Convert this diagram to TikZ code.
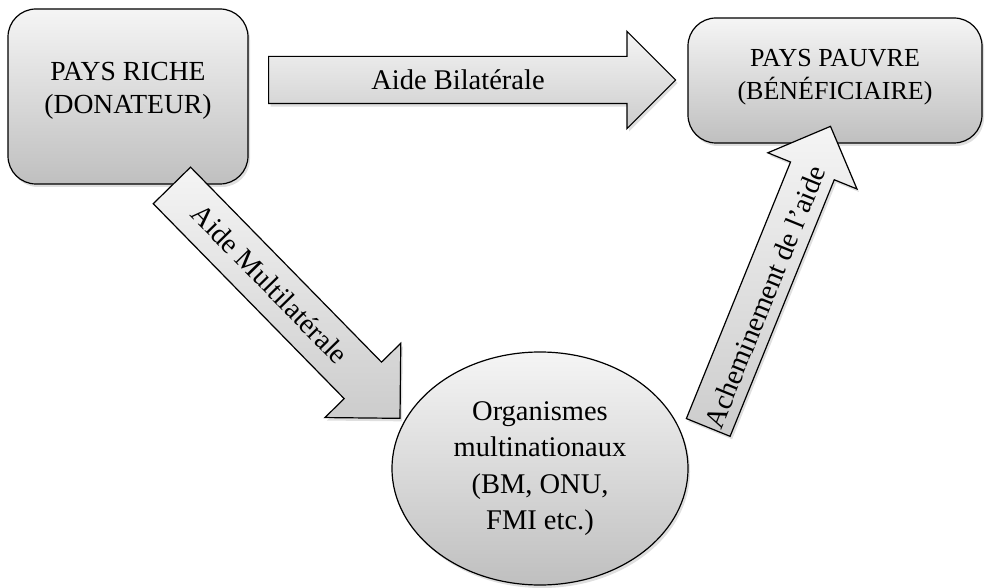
\documentclass[tikz,border=0pt]{standalone}
\usepackage{fontspec}
\setmainfont{Liberation Serif}
\usepackage{tikz}
\usetikzlibrary{shapes.geometric,shapes.arrows,shadows}

\tikzset{
  ombre/.style={drop shadow={opacity=0.25,shadow xshift=2pt,shadow yshift=-3pt}},
  pays/.style={draw,line width=1.2pt,rounded corners=28pt,top color=gray!8,
    bottom color=gray!50,align=center,font=\fontsize{26}{33}\selectfont,ombre},
  organ/.style={ellipse,draw,line width=1.2pt,top color=gray!8,bottom color=gray!50,
    align=center,inner sep=0pt,font=\fontsize{28.5}{36.5}\selectfont,ombre},
  fleche/.style={single arrow,draw,line width=1.2pt,top color=gray!8,bottom color=gray!40,
    text height=0pt,text depth=0pt,inner xsep=0pt,minimum width=0pt,
    single arrow tip angle=90,anchor=tail,ombre},
  legende/.style={font=\fontsize{28.5}{34}\selectfont}
}

\begin{document}
\begin{tikzpicture}[x=1pt,y=-1pt]
\useasboundingbox (0,0) rectangle (988,588);

\node[pays,minimum width=240pt,minimum height=175pt,text depth=18pt,
  font=\fontsize{27.6}{33}\selectfont] (riche) at (128,96.5) {PAYS RICHE\\(DONATEUR)};
\node[pays,minimum width=294pt,minimum height=125pt,text depth=12pt] (pauvre) at (835,80.5) {PAYS PAUVRE\\(BÉNÉFICIAIRE)};
\node[organ,minimum width=296pt,minimum height=233pt] (organ) at (540,468.5) {Organismes\\multinationaux\\(BM, ONU,\\FMI etc.)};

%les trois fleches
\node[fleche,minimum height=407pt,inner ysep=23pt,single arrow head extend=25pt] (bilat) at (268,80) {};
\node[fleche,rotate=-45.6,minimum height=326pt,inner ysep=25.5pt,single arrow head extend=27pt] (multilat) at (171.5,185) {};
\node[fleche,rotate=67.9,minimum height=325pt,inner ysep=23pt,single arrow head extend=24.5pt] (achem) at (708,428) {};

\node[legende] (bilat-txt) at (458,80) {Aide Bilatérale};
\node[legende,rotate=-45.6] (multilat-txt) at (270,284) {Aide Multilatérale};
\node[legende,rotate=67.9] (achem-txt) at (765,297) {Acheminement de l’aide};
\end{tikzpicture}
\end{document}
